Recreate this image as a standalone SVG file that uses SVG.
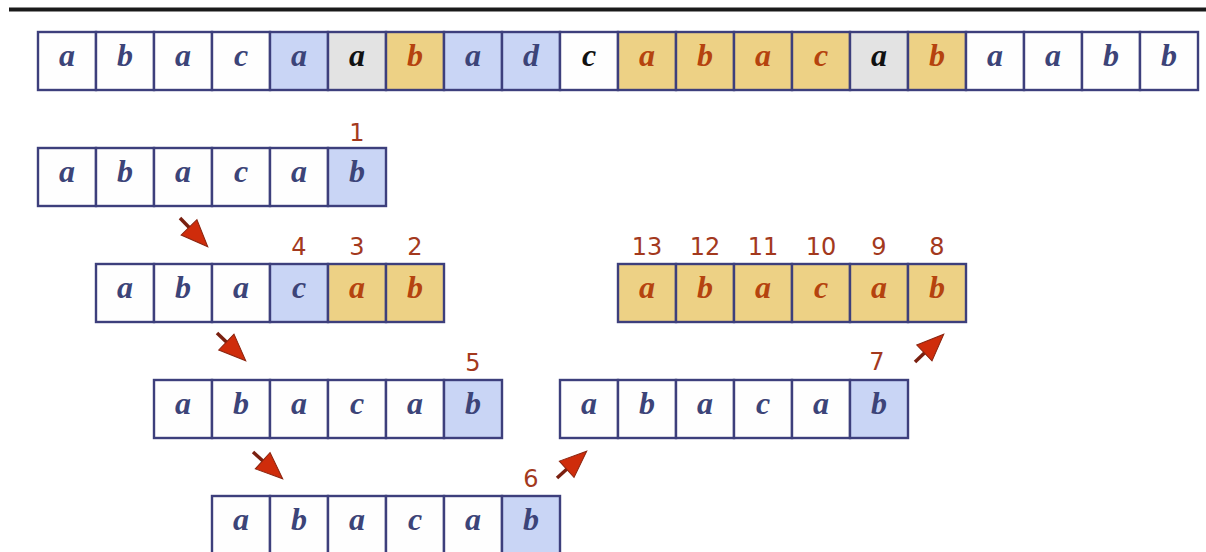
<svg xmlns="http://www.w3.org/2000/svg" xmlns:xlink="http://www.w3.org/1999/xlink" width="1206" height="552" viewBox="0 0 1206 552">
<style>
rect.c{stroke:#3d3f7c;stroke-width:2.4}
.w{fill:#fefefe}.b{fill:#c9d5f5}.g{fill:#e3e3e3}.y{fill:#edd185}
text.l{font-family:"Liberation Serif",serif;font-weight:bold;font-style:italic;font-size:32px;text-anchor:middle}
.tb{fill:#3c4478}.tk{fill:#111111}.to{fill:#b5430e}
text.n{font-family:"DejaVu Sans",sans-serif;font-size:24px;fill:#a3391d;text-anchor:middle}
</style>
<defs>
<g id="arr">
<line x1="0" y1="0" x2="16" y2="0" stroke="#7a2010" stroke-width="3.5"/>
<polygon points="13,-11 40,0 13,11" fill="#cf2c0b" stroke="#8a2510" stroke-width="1"/>
</g>
</defs>
<rect width="1206" height="552" fill="#ffffff"/>
<line x1="9" y1="9.5" x2="1206" y2="9.5" stroke="#1a1a1a" stroke-width="4"/>
<g id="text-row">
<rect class="c w" x="38" y="32" width="58" height="58"/><text class="l tb" x="67" y="66">a</text>
<rect class="c w" x="96" y="32" width="58" height="58"/><text class="l tb" x="125" y="66">b</text>
<rect class="c w" x="154" y="32" width="58" height="58"/><text class="l tb" x="183" y="66">a</text>
<rect class="c w" x="212" y="32" width="58" height="58"/><text class="l tb" x="241" y="66">c</text>
<rect class="c b" x="270" y="32" width="58" height="58"/><text class="l tb" x="299" y="66">a</text>
<rect class="c g" x="328" y="32" width="58" height="58"/><text class="l tk" x="357" y="66">a</text>
<rect class="c y" x="386" y="32" width="58" height="58"/><text class="l to" x="415" y="66">b</text>
<rect class="c b" x="444" y="32" width="58" height="58"/><text class="l tb" x="473" y="66">a</text>
<rect class="c b" x="502" y="32" width="58" height="58"/><text class="l tb" x="531" y="66">d</text>
<rect class="c w" x="560" y="32" width="58" height="58"/><text class="l tk" x="589" y="66">c</text>
<rect class="c y" x="618" y="32" width="58" height="58"/><text class="l to" x="647" y="66">a</text>
<rect class="c y" x="676" y="32" width="58" height="58"/><text class="l to" x="705" y="66">b</text>
<rect class="c y" x="734" y="32" width="58" height="58"/><text class="l to" x="763" y="66">a</text>
<rect class="c y" x="792" y="32" width="58" height="58"/><text class="l to" x="821" y="66">c</text>
<rect class="c g" x="850" y="32" width="58" height="58"/><text class="l tk" x="879" y="66">a</text>
<rect class="c y" x="908" y="32" width="58" height="58"/><text class="l to" x="937" y="66">b</text>
<rect class="c w" x="966" y="32" width="58" height="58"/><text class="l tb" x="995" y="66">a</text>
<rect class="c w" x="1024" y="32" width="58" height="58"/><text class="l tb" x="1053" y="66">a</text>
<rect class="c w" x="1082" y="32" width="58" height="58"/><text class="l tb" x="1111" y="66">b</text>
<rect class="c w" x="1140" y="32" width="58" height="58"/><text class="l tb" x="1169" y="66">b</text>
</g>
<g id="step1">
<rect class="c w" x="38" y="148" width="58" height="58"/><text class="l tb" x="67" y="182">a</text>
<rect class="c w" x="96" y="148" width="58" height="58"/><text class="l tb" x="125" y="182">b</text>
<rect class="c w" x="154" y="148" width="58" height="58"/><text class="l tb" x="183" y="182">a</text>
<rect class="c w" x="212" y="148" width="58" height="58"/><text class="l tb" x="241" y="182">c</text>
<rect class="c w" x="270" y="148" width="58" height="58"/><text class="l tb" x="299" y="182">a</text>
<rect class="c b" x="328" y="148" width="58" height="58"/><text class="l tb" x="357" y="182">b</text>
<text class="n" x="357" y="141">1</text>
</g>
<g id="step2">
<rect class="c w" x="96" y="264" width="58" height="58"/><text class="l tb" x="125" y="298">a</text>
<rect class="c w" x="154" y="264" width="58" height="58"/><text class="l tb" x="183" y="298">b</text>
<rect class="c w" x="212" y="264" width="58" height="58"/><text class="l tb" x="241" y="298">a</text>
<rect class="c b" x="270" y="264" width="58" height="58"/><text class="l tb" x="299" y="298">c</text>
<rect class="c y" x="328" y="264" width="58" height="58"/><text class="l to" x="357" y="298">a</text>
<rect class="c y" x="386" y="264" width="58" height="58"/><text class="l to" x="415" y="298">b</text>
<text class="n" x="299" y="255">4</text>
<text class="n" x="357" y="255">3</text>
<text class="n" x="415" y="255">2</text>
</g>
<g id="step3">
<rect class="c w" x="154" y="380" width="58" height="58"/><text class="l tb" x="183" y="414">a</text>
<rect class="c w" x="212" y="380" width="58" height="58"/><text class="l tb" x="241" y="414">b</text>
<rect class="c w" x="270" y="380" width="58" height="58"/><text class="l tb" x="299" y="414">a</text>
<rect class="c w" x="328" y="380" width="58" height="58"/><text class="l tb" x="357" y="414">c</text>
<rect class="c w" x="386" y="380" width="58" height="58"/><text class="l tb" x="415" y="414">a</text>
<rect class="c b" x="444" y="380" width="58" height="58"/><text class="l tb" x="473" y="414">b</text>
<text class="n" x="473" y="371">5</text>
</g>
<g id="step4">
<rect class="c w" x="212" y="496" width="58" height="58"/><text class="l tb" x="241" y="530">a</text>
<rect class="c w" x="270" y="496" width="58" height="58"/><text class="l tb" x="299" y="530">b</text>
<rect class="c w" x="328" y="496" width="58" height="58"/><text class="l tb" x="357" y="530">a</text>
<rect class="c w" x="386" y="496" width="58" height="58"/><text class="l tb" x="415" y="530">c</text>
<rect class="c w" x="444" y="496" width="58" height="58"/><text class="l tb" x="473" y="530">a</text>
<rect class="c b" x="502" y="496" width="58" height="58"/><text class="l tb" x="531" y="530">b</text>
<text class="n" x="531" y="487">6</text>
</g>
<g id="step5">
<rect class="c w" x="560" y="380" width="58" height="58"/><text class="l tb" x="589" y="414">a</text>
<rect class="c w" x="618" y="380" width="58" height="58"/><text class="l tb" x="647" y="414">b</text>
<rect class="c w" x="676" y="380" width="58" height="58"/><text class="l tb" x="705" y="414">a</text>
<rect class="c w" x="734" y="380" width="58" height="58"/><text class="l tb" x="763" y="414">c</text>
<rect class="c w" x="792" y="380" width="58" height="58"/><text class="l tb" x="821" y="414">a</text>
<rect class="c b" x="850" y="380" width="58" height="58"/><text class="l tb" x="879" y="414">b</text>
<text class="n" x="877" y="370">7</text>
</g>
<g id="step6">
<rect class="c y" x="618" y="264" width="58" height="58"/><text class="l to" x="647" y="298">a</text>
<rect class="c y" x="676" y="264" width="58" height="58"/><text class="l to" x="705" y="298">b</text>
<rect class="c y" x="734" y="264" width="58" height="58"/><text class="l to" x="763" y="298">a</text>
<rect class="c y" x="792" y="264" width="58" height="58"/><text class="l to" x="821" y="298">c</text>
<rect class="c y" x="850" y="264" width="58" height="58"/><text class="l to" x="879" y="298">a</text>
<rect class="c y" x="908" y="264" width="58" height="58"/><text class="l to" x="937" y="298">b</text>
<text class="n" x="647" y="255">13</text>
<text class="n" x="705" y="255">12</text>
<text class="n" x="763" y="255">11</text>
<text class="n" x="821" y="255">10</text>
<text class="n" x="879" y="255">9</text>
<text class="n" x="937" y="255">8</text>
</g>
<g id="connectors">
<use xlink:href="#arr" transform="translate(180,218) rotate(46)"/>
<use xlink:href="#arr" transform="translate(217,333) rotate(44)"/>
<use xlink:href="#arr" transform="translate(253,452) rotate(42)"/>
<use xlink:href="#arr" transform="translate(557,478) rotate(-42)"/>
<use xlink:href="#arr" transform="translate(915,362) rotate(-44)"/>
</g>
</svg>
